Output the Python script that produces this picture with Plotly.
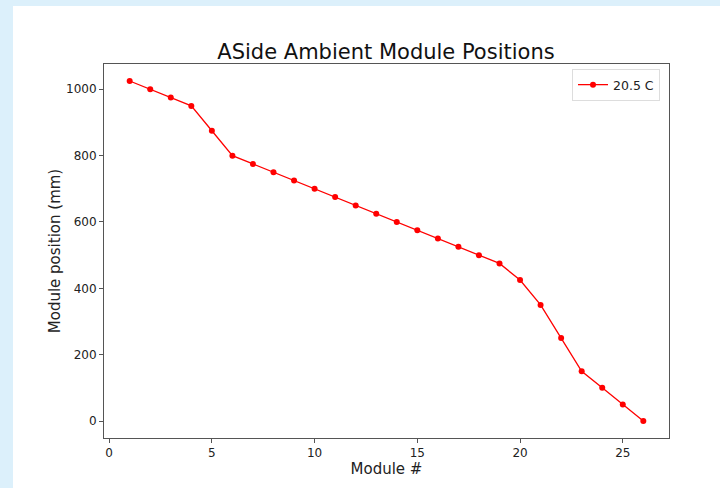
import plotly.graph_objects as go

modules = list(range(1, 27))
positions = [1025, 1000, 975, 950, 875, 800, 775, 750, 725, 700, 675, 650, 625,
             600, 575, 550, 525, 500, 475, 425, 350, 250, 150, 100, 50, 0]
series_name = "20.5 C"
x_ticks = [0, 5, 10, 15, 20, 25]
y_ticks = [0, 200, 400, 600, 800, 1000]

L, R, T, B = 104, 51, 64, 50
W, H = 720, 488
pw, ph = W - L - R, H - T - B

fig = go.Figure()
fig.add_trace(go.Scatter(
    x=modules, y=positions, mode="lines+markers", name=series_name,
    line=dict(color="red", width=1.3),
    marker=dict(color="red", size=6),
))

axis_common = dict(
    showgrid=False, zeroline=False, showline=True, mirror=True,
    linecolor="#555555", linewidth=1,
    ticks="outside", ticklen=4, tickcolor="#555555",
    tickfont=dict(family="DejaVu Sans", size=12, color="#222222"),
)
fig.update_xaxes(range=[-0.25, 27.25], tickvals=x_ticks,
                 title=dict(text="Module #", font=dict(family="DejaVu Sans", size=15, color="#222222"), standoff=4),
                 **axis_common)
fig.update_yaxes(range=[-51.25, 1076.25], tickvals=y_ticks,
                 title=dict(text="Module position (mm)", font=dict(family="DejaVu Sans", size=15, color="#222222"), standoff=1),
                 **axis_common)

fig.add_shape(type="rect", xref="paper", yref="paper",
              x0=(13 - L) / pw, x1=(W + 10 - L) / pw,
              y0=-(B + 10) / ph, y1=1 + (T - 6) / ph,
              fillcolor="white", line=dict(width=0), layer="below")

fig.update_layout(
    width=W, height=H,
    margin=dict(l=L, r=R, t=T, b=B),
    paper_bgcolor="#dcf0fb", plot_bgcolor="white",
    title=dict(text="ASide Ambient Module Positions", x=386 / W, xanchor="center",
               y=1 - 52 / H, yanchor="middle",
               font=dict(family="DejaVu Sans", size=21, color="#111111")),
    showlegend=True,
    legend=dict(x=(660 - L) / pw, y=1 - (69 - T) / ph, xanchor="right", yanchor="top",
                bgcolor="white", bordercolor="#dddddd", borderwidth=1, itemwidth=30,
                font=dict(family="DejaVu Sans", size=12.5, color="#222222")),
)

fig.write_html("out.html")
